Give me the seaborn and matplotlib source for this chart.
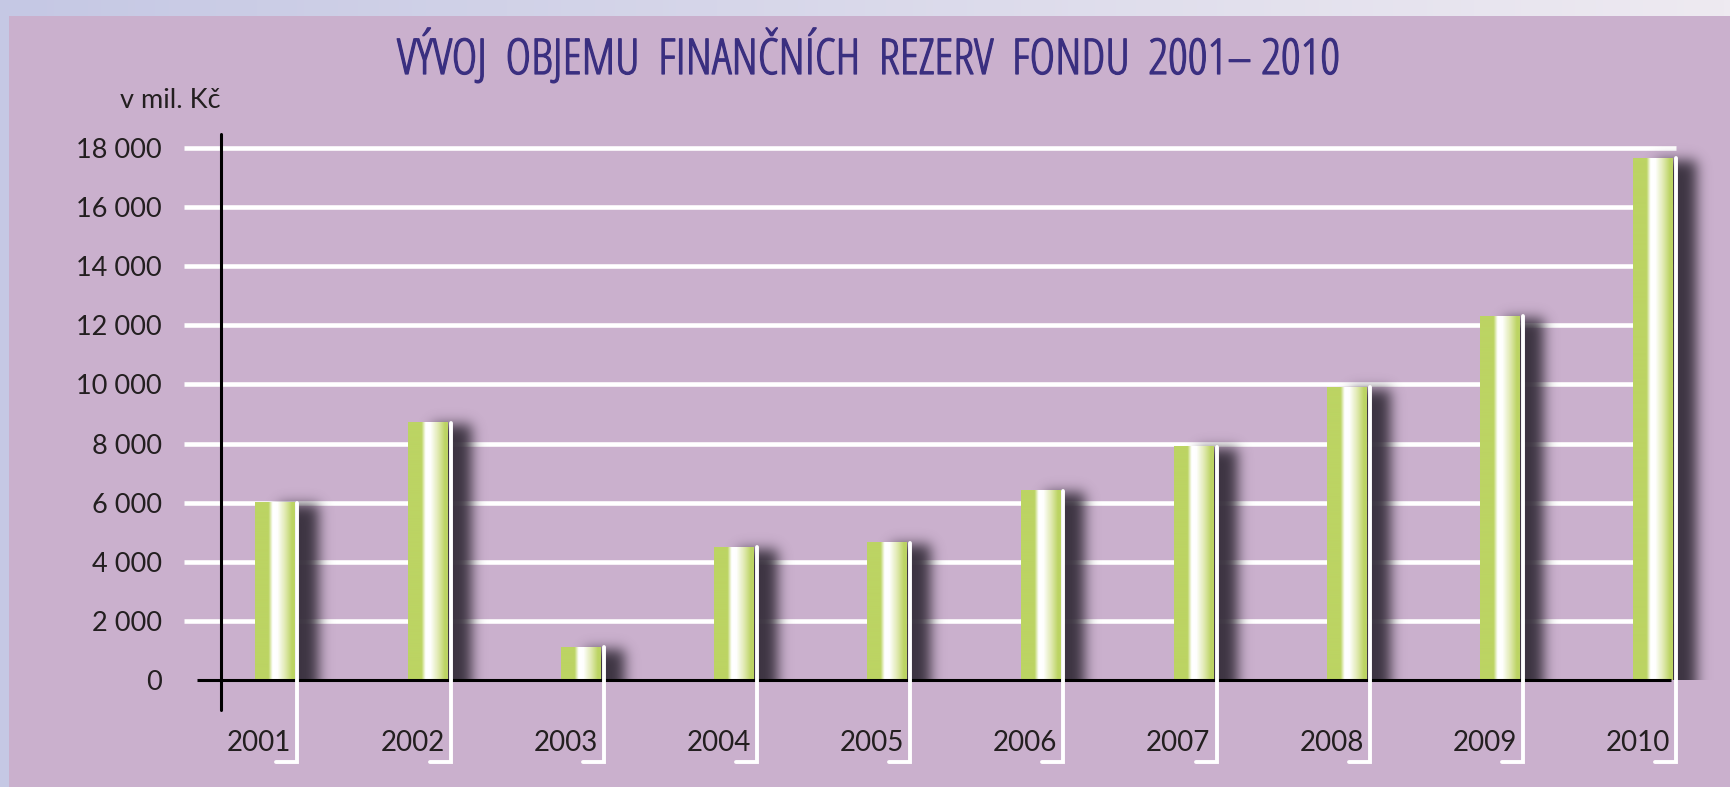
import math
import numpy as np
import pandas as pd
import seaborn as sns
import matplotlib

matplotlib.use("Agg")
import matplotlib.pyplot as plt
from matplotlib import font_manager
from matplotlib import patheffects
from matplotlib.font_manager import FontProperties
from matplotlib.patches import Rectangle

# data (mil. Kč)
years = ["2001", "2002", "2003", "2004", "2005", "2006", "2007", "2008", "2009", "2010"]
reserves = [6000, 8700, 1100, 4500, 4650, 6400, 7900, 9900, 12300, 17650]
y_ticks = [0, 2000, 4000, 6000, 8000, 10000, 12000, 14000, 16000, 18000]

TITLE = "VÝVOJ  OBJEMU  FINANČNÍCH  REZERV  FONDU  2001– 2010"
UNIT = "v mil. Kč"

GREEN = "#bcd463"
PANEL = "#cab0cd"
TITLE_COL = "#3a2f80"
TEXT_COL = "#231f20"
SHADOW = (0.22, 0.19, 0.24)

W, H = 1731, 787

# a condensed face for the title, if one is installed
fonts = font_manager.fontManager.ttflist
cond = [f for f in fonts
        if (f.stretch in ("condensed", "semi-condensed", "extra-condensed")
            or "Condensed" in f.name or "Narrow" in f.name)
        and f.style == "normal"]
pref = ["Open Sans", "Roboto", "Noto Sans", "Liberation Sans", "DejaVu Sans"]


def rank(f):
    fam = next((i for i, p in enumerate(pref) if f.name.startswith(p)), 99)
    w = f.weight if isinstance(f.weight, int) else 400
    return (fam, abs(w - 400))


cond.sort(key=rank)
title_fp = FontProperties(fname=cond[0].fname) if cond else FontProperties(family="Lato")

sns.set_theme(style="white")
plt.rcParams["font.family"] = ["Lato", "DejaVu Sans"]

# pixel <-> data mapping (bar i centred at 274.5 + 153.2 * i px, value 0 at 680 px)
STEP = 153.2
X0 = 274.5
Y0 = 680
YS = 532 / 18000  # px per unit


def dx(px):
    return (px - X0) / STEP


def dy(py):
    return (Y0 - py) / YS


fig = plt.figure(figsize=(W / 100, H / 100), dpi=100)

# outer background + panel
bg = fig.add_axes([0, 0, 1, 1], zorder=-2)
grad = np.linspace(0, 1, 256)
c0 = np.array([197, 200, 228]) / 255
c1 = np.array([238, 234, 241]) / 255
img = (c0[None, :] * (1 - grad[:, None]) + c1[None, :] * grad[:, None])[None, :, :]
bg.imshow(img, extent=[0, 1, 0, 1], aspect="auto")
bg.add_patch(Rectangle((9 / W, 0), 1, 1 - 16 / H, color=PANEL, lw=0))
bg.set_xlim(0, 1)
bg.set_ylim(0, 1)
bg.axis("off")

ax = fig.add_axes([0, 0, 1, 1])
ax.set_facecolor("none")

df = pd.DataFrame({"year": years, "value": reserves})
sns.barplot(data=df, x="year", y="value", color=GREEN, saturation=1,
            width=0.26, ax=ax, zorder=3, linewidth=0)

# gridlines and tick labels
for v in y_ticks:
    if v > 0:
        ax.plot([dx(184), dx(1676)], [v, v], color="white", lw=3.3,
                solid_capstyle="butt", zorder=1)
    lab = f"{v:,}".replace(",", " ")
    ax.text(dx(162), v, lab, ha="right", va="center_baseline",
            fontsize=19.5, color=TEXT_COL)

# axis lines
ax.plot([dx(221), dx(221)], [dy(134), dy(710)], color="black", lw=2.2, zorder=6)
ax.plot([dx(197), dx(1671)], [0, 0], color="black", lw=2.2, zorder=5,
        solid_capstyle="butt")

# bar gradient
stops = [(0, GREEN), (0.34, GREEN), (0.44, "#ffffff"), (0.56, "#ffffff"),
         (0.76, "#e0e9b0"), (0.93, GREEN), (1, GREEN)]
cmap = matplotlib.colors.LinearSegmentedColormap.from_list("bar", stops)
bar_img = cmap(np.linspace(0, 1, 200))[None, :, :]

erf = np.vectorize(math.erf)
SIG = 6.5
OFF = 24.0

for patch, year in zip(ax.patches, years):
    x, w, h = patch.get_x(), patch.get_width(), patch.get_height()
    # drop shadow
    l_px = x * STEP + X0 + OFF
    r_px = (x + w) * STEP + X0 + OFF
    t_px = Y0 - h * YS + 2
    gx = np.arange(l_px - 4 * SIG, r_px + 4 * SIG)
    gy = np.arange(t_px - 4 * SIG, Y0)
    ax_ = 0.5 * (erf((gx - l_px) / (SIG * 1.414)) - erf((gx - r_px) / (SIG * 1.414)))
    ay_ = 0.5 * (1 + erf((gy - t_px) / (SIG * 1.414)))
    alpha = 0.97 * ay_[:, None] * ax_[None, :]
    sh = np.zeros(alpha.shape + (4,))
    sh[..., :3] = SHADOW
    sh[..., 3] = alpha
    ax.imshow(sh, extent=[dx(gx[0]), dx(gx[-1]), 0, dy(gy[0])], aspect="auto",
              interpolation="bilinear", zorder=2)
    # gradient fill
    ax.imshow(bar_img, extent=[x, x + w, 0, h], aspect="auto",
              interpolation="bilinear", zorder=4)
    # white bracket
    xb = x + w + 3 / STEP
    ax.plot([xb, xb, xb - 21 / STEP], [h, dy(762), dy(762)], color="white",
            lw=2.8, zorder=5, solid_joinstyle="miter")
    ax.text(xb - 6 / STEP, dy(743), year, ha="right", va="center",
            fontsize=20, color=TEXT_COL)

ax.text(dx(221), dy(101), UNIT, ha="right", va="center", fontsize=19.5,
        color=TEXT_COL)

ax.set_xlim(dx(0), dx(W))
ax.set_ylim(dy(H), dy(0))
ax.axis("off")

# title, sized to span the same width as in the reference
t = fig.text(868 / W, 1 - 58 / H, TITLE, ha="center", va="center",
             fontproperties=title_fp, fontsize=32, color=TITLE_COL)
r = fig.canvas.get_renderer()
tw = t.get_window_extent(renderer=r).width
t.set_fontsize(min(42, 32 * 945 / tw))
t.set_path_effects([patheffects.withStroke(linewidth=0.9, foreground=TITLE_COL)])

fig.savefig("out.png", dpi=100)
